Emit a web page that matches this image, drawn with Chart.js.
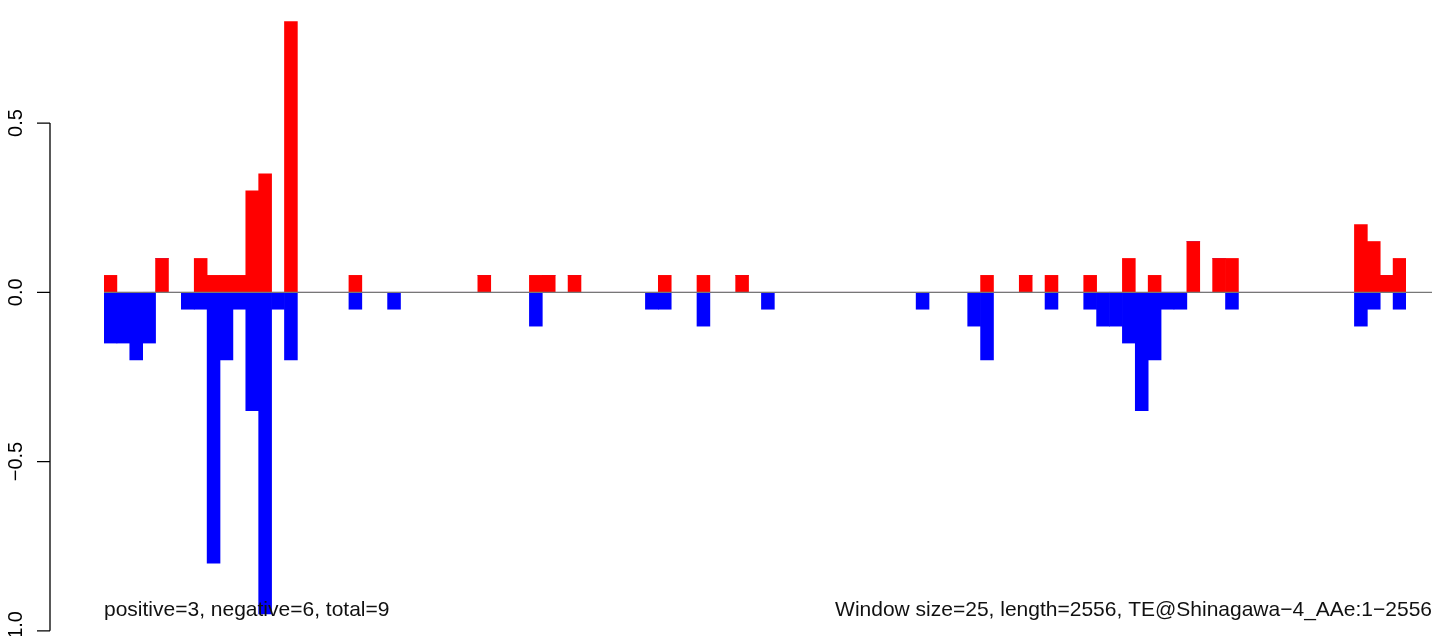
<html lang="en">
<head>
  <meta charset="UTF-8">
  <title>Window profile</title>
  <style>
    body {
      margin: 0;
      background: #fff;
    }
    canvas {
      display: block;
    }
  </style>
  <script src="https://cdn.jsdelivr.net/npm/chart.js@4.4.1/dist/chart.umd.min.js"></script>
</head>
<body>
  <canvas id="barChart" width="1444" height="636"></canvas>
  <script>
    // one bar per 25bp window, 101 windows along the element
    const windowStarts = Array.from({ length: 101 }, (_, i) => 1 + i * 25)

    const positive = [
      0.05, 0, 0, 0, 0.1, 0, 0, 0.1, 0.05, 0.05,
      0.05, 0.3, 0.35, 0, 0.8, 0, 0, 0, 0, 0.05,
      0, 0, 0, 0, 0, 0, 0, 0, 0, 0.05,
      0, 0, 0, 0.05, 0.05, 0, 0.05, 0, 0, 0,
      0, 0, 0, 0.05, 0, 0, 0.05, 0, 0, 0.05,
      0, 0, 0, 0, 0, 0, 0, 0, 0, 0,
      0, 0, 0, 0, 0, 0, 0, 0, 0.05, 0,
      0, 0.05, 0, 0.05, 0, 0, 0.05, 0, 0, 0.1,
      0, 0.05, 0, 0, 0.15, 0, 0.1, 0.1, 0, 0,
      0, 0, 0, 0, 0, 0, 0, 0.2, 0.15, 0.05,
      0.1
    ]

    const negative = [
      -0.15, -0.15, -0.2, -0.15, 0, 0, -0.05, -0.05, -0.8, -0.2,
      -0.05, -0.35, -0.95, -0.05, -0.2, 0, 0, 0, 0, -0.05,
      0, 0, -0.05, 0, 0, 0, 0, 0, 0, 0,
      0, 0, 0, -0.1, 0, 0, 0, 0, 0, 0,
      0, 0, -0.05, -0.05, 0, 0, -0.1, 0, 0, 0,
      0, -0.05, 0, 0, 0, 0, 0, 0, 0, 0,
      0, 0, 0, -0.05, 0, 0, 0, -0.1, -0.2, 0,
      0, 0, 0, -0.05, 0, 0, -0.05, -0.1, -0.1, -0.15,
      -0.35, -0.2, -0.05, -0.05, 0, 0, 0, -0.05, 0, 0,
      0, 0, 0, 0, 0, 0, 0, -0.1, -0.05, 0,
      -0.05
    ]

    const yTicks = [-1, -0.5, 0, 0.5]
    const yTickLabels = ["\u22121.0", "\u22120.5", "0.0", "0.5"]

    const leftNote = "positive=3, negative=6, total=9"
    const rightNote = "Window size=25, length=2556, TE@Shinagawa\u22124_AAe:1\u22122556"

    const FONT = "20px 'Liberation Sans', Arial, sans-serif"

    // R style axis, zero line and margin notes
    const decorations = {
      id: "decorations",
      afterDatasetsDraw(chart) {
        const ctx = chart.ctx
        const y = chart.scales.y
        const area = chart.chartArea
        const axisX = 50

        ctx.save()
        // zero line
        ctx.strokeStyle = "#777"
        ctx.lineWidth = 1.3
        ctx.beginPath()
        ctx.moveTo(area.left, y.getPixelForValue(0))
        ctx.lineTo(1432, y.getPixelForValue(0))
        ctx.stroke()

        // left axis
        ctx.strokeStyle = "#000"
        ctx.lineWidth = 1.3
        ctx.beginPath()
        ctx.moveTo(axisX, y.getPixelForValue(yTicks[0]))
        ctx.lineTo(axisX, y.getPixelForValue(yTicks[yTicks.length - 1]))
        yTicks.forEach(t => {
          const py = y.getPixelForValue(t)
          ctx.moveTo(axisX, py)
          ctx.lineTo(axisX - 13, py)
        })
        ctx.stroke()

        ctx.fillStyle = "#000"
        ctx.font = FONT
        ctx.textAlign = "center"
        ctx.textBaseline = "alphabetic"
        yTicks.forEach((t, i) => {
          ctx.save()
          ctx.translate(22, y.getPixelForValue(t))
          ctx.rotate(-Math.PI / 2)
          ctx.fillText(yTickLabels[i], 0, 0)
          ctx.restore()
        })

        // notes at the bottom
        ctx.font = "21px 'Liberation Sans', Arial, sans-serif"
        ctx.fillStyle = "#111"
        ctx.textAlign = "left"
        ctx.fillText(leftNote, 104, 616)
        ctx.textAlign = "right"
        ctx.fillText(rightNote, 1432, 616)
        ctx.restore()
      }
    }

    const data = {
      labels: windowStarts,
      datasets: [{
        label: "positive",
        data: positive,
        backgroundColor: "#ff0000",
        borderWidth: 0,
        barPercentage: 1,
        categoryPercentage: 1,
      }, {
        label: "negative",
        data: negative,
        backgroundColor: "#0000ff",
        borderWidth: 0,
        barPercentage: 1,
        categoryPercentage: 1,
      }]
    }

    const config = {
      type: "bar",
      data,
      options: {
        responsive: false,
        animation: false,
        layout: {
          padding: { left: 104, right: 38, top: 0, bottom: 0 }
        },
        plugins: {
          legend: { display: false },
          tooltip: { enabled: false },
        },
        scales: {
          x: { display: false, stacked: true, offset: true },
          y: { display: false, stacked: true, min: -1.0154, max: 0.8635 },
        },
      },
      plugins: [decorations],
    }

    new Chart(document.getElementById("barChart"), config)
  </script>
</body>
</html>
